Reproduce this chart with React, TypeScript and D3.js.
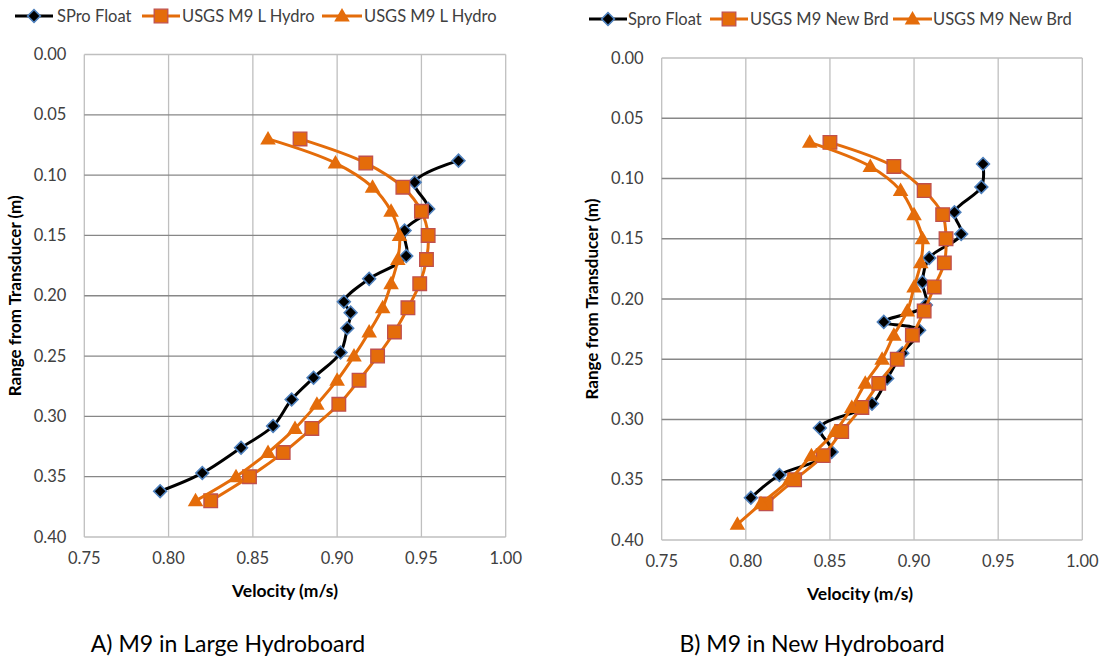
import React from "react";
import * as d3 from "d3";

// ---------- Data: Panel A (M9 in Large Hydroboard) ----------
const sproDepthA = [0.088, 0.106, 0.128, 0.146, 0.167, 0.186, 0.205, 0.214, 0.227, 0.247, 0.268, 0.286, 0.308, 0.326, 0.347, 0.362];
const sproVelA = [0.972, 0.946, 0.954, 0.940, 0.941, 0.919, 0.904, 0.908, 0.906, 0.902, 0.886, 0.873, 0.862, 0.843, 0.820, 0.795];
const usgsSqDepthA = [0.07, 0.09, 0.11, 0.13, 0.15, 0.17, 0.19, 0.21, 0.23, 0.25, 0.27, 0.29, 0.31, 0.33, 0.35, 0.37];
const usgsSqVelA = [0.878, 0.917, 0.939, 0.950, 0.954, 0.953, 0.949, 0.942, 0.934, 0.924, 0.913, 0.901, 0.885, 0.868, 0.848, 0.825];
const usgsTriDepthA = [0.07, 0.09, 0.11, 0.13, 0.15, 0.17, 0.19, 0.21, 0.23, 0.25, 0.27, 0.29, 0.31, 0.33, 0.35, 0.37];
const usgsTriVelA = [0.859, 0.899, 0.921, 0.932, 0.937, 0.936, 0.932, 0.927, 0.919, 0.910, 0.900, 0.888, 0.875, 0.859, 0.840, 0.816];

// ---------- Data: Panel B (M9 in New Hydroboard) ----------
const sproDepthB = [0.088, 0.107, 0.128, 0.146, 0.166, 0.186, 0.205, 0.219, 0.226, 0.245, 0.266, 0.287, 0.307, 0.327, 0.346, 0.365];
const sproVelB = [0.941, 0.940, 0.924, 0.928, 0.909, 0.905, 0.907, 0.882, 0.903, 0.893, 0.884, 0.875, 0.844, 0.851, 0.820, 0.803];
const usgsSqDepthB = [0.07, 0.09, 0.11, 0.13, 0.15, 0.17, 0.19, 0.21, 0.23, 0.25, 0.27, 0.29, 0.31, 0.33, 0.35, 0.37];
const usgsSqVelB = [0.850, 0.888, 0.906, 0.917, 0.919, 0.918, 0.912, 0.906, 0.899, 0.890, 0.879, 0.869, 0.857, 0.846, 0.829, 0.812];
const usgsTriDepthB = [0.07, 0.09, 0.11, 0.13, 0.15, 0.17, 0.19, 0.21, 0.23, 0.25, 0.27, 0.29, 0.31, 0.33, 0.35, 0.37, 0.387];
const usgsTriVelB = [0.838, 0.874, 0.892, 0.900, 0.905, 0.904, 0.900, 0.896, 0.888, 0.881, 0.871, 0.863, 0.853, 0.839, 0.826, 0.809, 0.795];

// ---------- Axes / labels ----------
const xTicks = [0.75, 0.8, 0.85, 0.9, 0.95, 1.0];
const yTicks = [0, 0.05, 0.1, 0.15, 0.2, 0.25, 0.3, 0.35, 0.4];
const legendA = ["SPro Float", "USGS M9 L Hydro", "USGS M9 L Hydro"];
const legendB = ["Spro Float", "USGS M9 New Brd", "USGS M9 New Brd"];
const captionA = "A) M9 in Large Hydroboard";
const captionB = "B) M9 in New Hydroboard";
const xTitle = "Velocity (m/s)";
const yTitle = "Range from Transducer (m)";

const ORANGE = "#E46C0A";
const SQ_STROKE = "#C0504D";
const DIA_STROKE = "#4F81BD";
const FONT = "Lato, 'Open Sans', sans-serif";

type Pt = { v: number; d: number };
const zip = (v: number[], d: number[]): Pt[] => v.map((x, i) => ({ v: x, d: d[i] }));

function Marker({ kind, x, y }: { kind: string; x: number; y: number }) {
  if (kind === "diamond") {
    const p = d3.symbol(d3.symbolSquare, 82)()!;
    return <path d={p} transform={`translate(${x},${y}) rotate(45)`} fill="#000" stroke={DIA_STROKE} strokeWidth={1.6} />;
  }
  if (kind === "square") {
    const p = d3.symbol(d3.symbolSquare, 185)()!;
    return <path d={p} transform={`translate(${x},${y})`} fill={ORANGE} stroke={SQ_STROKE} strokeWidth={1.3} />;
  }
  const p = d3.symbol(d3.symbolTriangle, 105)()!;
  return <path d={p} transform={`translate(${x},${y + 1})`} fill={ORANGE} />;
}

function Panel({
  x0, x1, y0, y1, series, legend, legendPos, caption, capX, yTitleX, xTitleX,
}: {
  x0: number; x1: number; y0: number; y1: number;
  series: { pts: Pt[]; color: string; kind: string }[];
  legend: string[]; legendPos: number[][]; caption: string; capX: number; yTitleX: number; xTitleX: number;
}) {
  const x = d3.scaleLinear().domain([0.75, 1.0]).range([x0, x1]);
  const y = d3.scaleLinear().domain([0, 0.4]).range([y0, y1]);
  const line = d3.line<Pt>().x((p) => x(p.v)).y((p) => y(p.d)).curve(d3.curveCatmullRom.alpha(0.5));
  return (
    <g>
      {xTicks.map((t) => (
        <line key={"vx" + t} x1={x(t)} x2={x(t)} y1={y0} y2={y1} stroke="#BFBFBF" strokeWidth={1.3} />
      ))}
      {yTicks.map((t, i) => (
        <line key={"hy" + t} x1={x0} x2={x1} y1={y(t)} y2={y(t)}
          stroke={i === 0 || i === yTicks.length - 1 ? "#BFBFBF" : "#878787"} strokeWidth={1.3} />
      ))}
      {xTicks.map((t) => (
        <text key={"xt" + t} x={x(t)} y={y1 + 27} textAnchor="middle" fontSize={16.5} fill="#404040" fontFamily={FONT}>
          {t.toFixed(2)}
        </text>
      ))}
      {yTicks.map((t) => (
        <text key={"yt" + t} x={x0 - 18} y={y(t) + 5.5} textAnchor="end" fontSize={16.5} fill="#404040" fontFamily={FONT}>
          {t.toFixed(2)}
        </text>
      ))}
      <text x={xTitleX} y={y1 + 60} textAnchor="middle" fontSize={17.5} fontWeight="bold" fill="#000" fontFamily={FONT}>
        {xTitle}
      </text>
      <text transform={`translate(${yTitleX},${(y0 + y1) / 2}) rotate(-90)`} textAnchor="middle" fontSize={17}
        fontWeight="bold" fill="#000" fontFamily={FONT}>
        {yTitle}
      </text>
      {series.map((s, i) => (
        <g key={"s" + i}>
          <path d={line(s.pts)!} fill="none" stroke={s.color} strokeWidth={3} />
          {s.pts.map((p, j) => (
            <Marker key={j} kind={s.kind} x={x(p.v)} y={y(p.d)} />
          ))}
        </g>
      ))}
      {series.map((s, i) => {
        const [lx0, lx1, ty, tx] = legendPos[i];
        return (
          <g key={"lg" + i}>
            <line x1={lx0} x2={lx1} y1={ty} y2={ty} stroke={s.color} strokeWidth={3} />
            <Marker kind={s.kind} x={(lx0 + lx1) / 2} y={ty} />
            <text x={tx} y={ty + 6} fontSize={16.5} fill="#404040" fontFamily={FONT}>{legend[i]}</text>
          </g>
        );
      })}
      <text x={capX} y={652} textAnchor="middle" fontSize={23} fill="#000" fontFamily={FONT}>{caption}</text>
    </g>
  );
}

export default function App() {
  const seriesA = [
    { pts: zip(sproVelA, sproDepthA), color: "#000", kind: "diamond" },
    { pts: zip(usgsSqVelA, usgsSqDepthA), color: ORANGE, kind: "square" },
    { pts: zip(usgsTriVelA, usgsTriDepthA), color: ORANGE, kind: "triangle" },
  ];
  const seriesB = [
    { pts: zip(sproVelB, sproDepthB), color: "#000", kind: "diamond" },
    { pts: zip(usgsSqVelB, usgsSqDepthB), color: ORANGE, kind: "square" },
    { pts: zip(usgsTriVelB, usgsTriDepthB), color: ORANGE, kind: "triangle" },
  ];
  return (
    <svg width={1102} height={660} style={{ position: "absolute", left: 0, top: 0, background: "#fff" }}>
      <rect width={1102} height={660} fill="#fff" />
      <Panel x0={84.3} x1={505.7} y0={54.5} y1={537} series={seriesA} legend={legendA}
        legendPos={[[15, 53, 16, 57], [142, 180, 16, 182], [322, 362, 16, 364]]}
        caption={captionA} capX={228} yTitleX={21} xTitleX={285} />
      <Panel x0={661.7} x1={1082.3} y0={58} y1={540} series={seriesB} legend={legendB}
        legendPos={[[589, 627, 19, 628], [710, 748, 19, 750], [893, 932, 19, 933]]}
        caption={captionB} capX={812} yTitleX={598} xTitleX={860} />
    </svg>
  );
}
